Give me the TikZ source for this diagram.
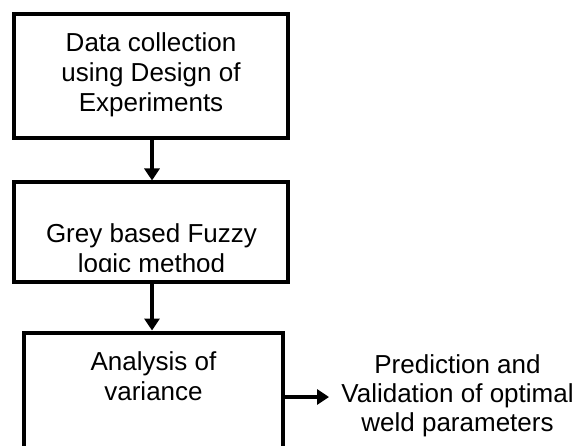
\documentclass[tikz,border=0pt]{standalone}
\usepackage{fontspec}
\setmainfont{Liberation Sans}
\usetikzlibrary{arrows.meta}
\begin{document}
\begin{tikzpicture}[x=1pt,y=-1pt,
  box/.style={draw=black,line width=4pt,rectangle,inner sep=0pt},
  lbl/.style={align=center,inner sep=0pt,anchor=base,font=\fontsize{26}{30}\selectfont},
  flow/.style={line width=4pt,-{Triangle[length=12pt,width=15pt]}}]
  \clip (0,0) rectangle (580,446);
  \fill[white] (0,0) rectangle (580,446);
  % stage boxes
  \node[box,minimum width=274pt,minimum height=124pt] (doe) at (151,76) {};
  \node[box,minimum width=274pt,minimum height=99pt] (fuzzy) at (151,232) {};
  \node[box,minimum width=259pt,minimum height=160pt,anchor=north] (anova) at (153.5,330.5) {};
  % stage texts (anchored at the baseline of their last line)
  \node[lbl] (doetxt) at (151,112) {Data collection\\using Design of\\Experiments};
  \begin{scope}
    \clip (16,184) rectangle (286,271);
    \node[lbl] (fuzzytxt) at (151.5,272.5) {Grey based Fuzzy\\logic method};
  \end{scope}
  \node[lbl] (anovatxt) at (153.5,400) {Analysis of\\variance};
  \node[lbl,font=\fontsize{26}{29}\selectfont] (result) at (457.5,431) {Prediction and\\Validation of optimal\\weld parameters};
  % connectors
  \coordinate (outA) at (anova.east |- 0,397);
  \coordinate (tipA) at (329,397);
  \draw[flow] (doe.south -| 152,0) -- (fuzzy.north -| 152,0);
  \draw[flow] (fuzzy.south -| 152,0) -- (anova.north -| 152,0);
  \draw[flow] (outA) -- (tipA);
\end{tikzpicture}
\end{document}
